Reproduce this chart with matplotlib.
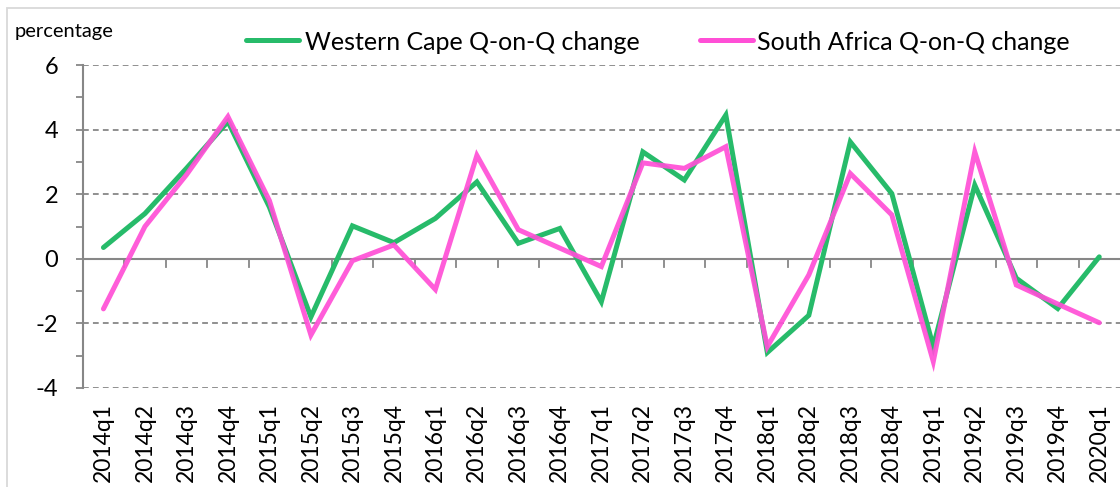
import matplotlib
matplotlib.use("Agg")
import matplotlib.pyplot as plt
from matplotlib.patches import Rectangle
from matplotlib.lines import Line2D
from matplotlib.ticker import MultipleLocator

plt.rcParams["axes.unicode_minus"] = False

quarters = ["2014q1", "2014q2", "2014q3", "2014q4",
            "2015q1", "2015q2", "2015q3", "2015q4",
            "2016q1", "2016q2", "2016q3", "2016q4",
            "2017q1", "2017q2", "2017q3", "2017q4",
            "2018q1", "2018q2", "2018q3", "2018q4",
            "2019q1", "2019q2", "2019q3", "2019q4",
            "2020q1"]
western_cape = [0.35, 1.4, 2.8, 4.25, 1.6, -1.8, 1.02, 0.5,
                1.25, 2.38, 0.48, 0.94, -1.33, 3.31, 2.44, 4.45,
                -2.9, -1.75, 3.62, 2.02, -2.72, 2.28, -0.6, -1.54,
                0.06]
south_africa = [-1.55, 1.0, 2.6, 4.4, 1.8, -2.36, -0.06, 0.43,
                -0.95, 3.2, 0.9, 0.33, -0.24, 2.97, 2.8, 3.47,
                -2.72, -0.5, 2.64, 1.36, -3.18, 3.31, -0.81, -1.4,
                -1.98]
series_names = ["Western Cape Q-on-Q change", "South Africa Q-on-Q change"]
yticks = [-4, -2, 0, 2, 4, 6]

GREEN = "#27BB6A"
PINK = "#FF4FD6"
GRAY = "#878787"
FONT = "Lato"
W, H = 1120, 487

fig = plt.figure(figsize=(W / 100, H / 100), dpi=100)
# chart border (Excel style)
fig.add_artist(Rectangle((7 / W, -0.1), 1.2, 1 - 8 / H + 0.1,
                         transform=fig.transFigure, fill=False,
                         edgecolor="#D9D9D9", linewidth=1.3))

ax = fig.add_axes([82.7 / W, 1 - 388 / H, 1 - 82.7 / W, (388 - 65) / H])
x = list(range(len(quarters)))
ax.plot(x, western_cape, color=GREEN, lw=3.6, solid_capstyle="round",
        solid_joinstyle="miter", zorder=3)
ax.plot(x, south_africa, color=PINK, lw=3.6, alpha=0.92, solid_capstyle="round",
        solid_joinstyle="miter", zorder=4)

ax.set_xlim(-0.5, len(quarters) - 0.5)
ax.set_ylim(-4, 6)
ax.set_yticks(yticks)
ax.yaxis.set_minor_locator(MultipleLocator(1))
for v in yticks:
    if v != 0:
        ax.axhline(v, color=GRAY, lw=1.3, ls=(0, (3.2, 2.3)), zorder=1)
ax.axhline(0, color=GRAY, lw=1.5, zorder=2)

for s in ["top", "right", "bottom"]:
    ax.spines[s].set_visible(False)
ax.spines["left"].set_color(GRAY)
ax.spines["left"].set_linewidth(1.5)

ax.tick_params(axis="y", which="both", direction="out", length=5, width=1.3,
               color=GRAY, labelsize=17, pad=12.5)
for lab in ax.get_yticklabels():
    lab.set_fontfamily(FONT)

# x tick labels at category centers, ticks at boundaries along y=0
ax.set_xticks(x)
ax.set_xticklabels(quarters, rotation=90, fontsize=16.5, fontfamily=FONT)
ax.tick_params(axis="x", which="major", length=0, pad=11)
for b in range(1, len(quarters)):
    ax.plot([b - 0.5, b - 0.5], [0, -0.25], color=GRAY, lw=1.3, zorder=2,
            clip_on=False)

fig.text(15 / W, 1 - 32 / H, "percentage", fontsize=14.5, fontfamily=FONT,
         va="center", ha="left")

# legend entries
legend_y = 1 - 40 / H
for name, color, x0, x1, tx in [(series_names[0], GREEN, 246, 299, 305),
                                (series_names[1], PINK, 700, 753, 757)]:
    fig.add_artist(Line2D([x0 / W, x1 / W], [legend_y, legend_y],
                          transform=fig.transFigure, color=color, lw=3.6,
                          solid_capstyle="round"))
    fig.text(tx / W, legend_y, name, fontsize=18, fontfamily=FONT,
             va="center_baseline", ha="left")

fig.savefig("out.png", dpi=100)
